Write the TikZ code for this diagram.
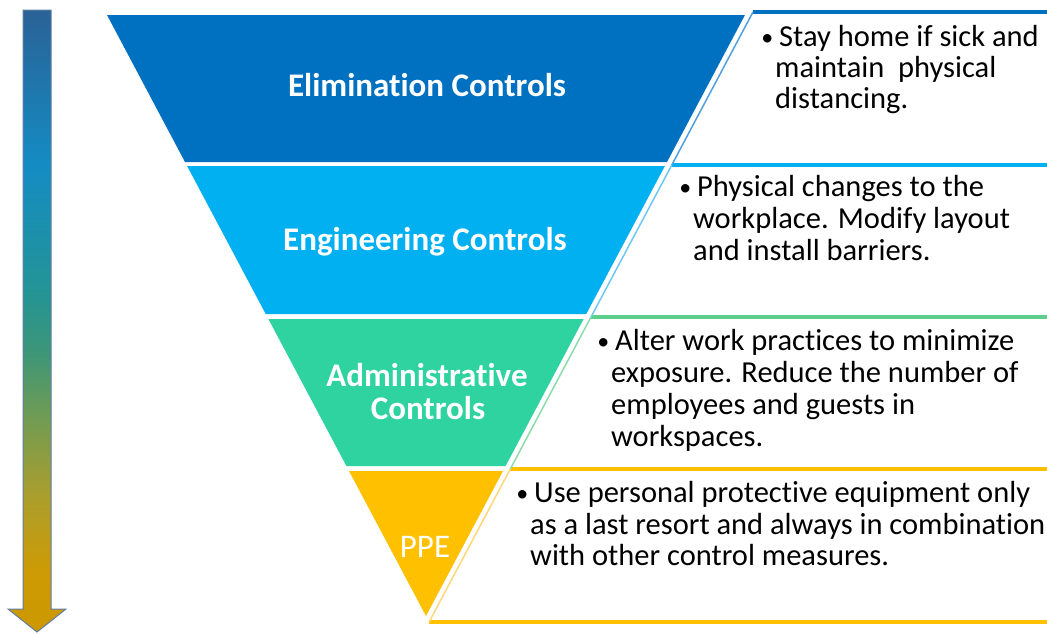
\documentclass[tikz,border=0pt]{standalone}
\usepackage{fontspec}
\setmainfont[Ligatures=NoCommon]{Carlito}
\definecolor{elim}{RGB}{0,112,192}
\definecolor{engr}{RGB}{0,176,240}
\definecolor{admin}{RGB}{46,211,160}
\definecolor{adminline}{RGB}{92,208,138}
\definecolor{ppe}{RGB}{255,192,0}
\definecolor{slant1}{RGB}{80,160,225}
\definecolor{slant2}{RGB}{110,200,245}
\definecolor{slant3}{RGB}{140,220,170}
\definecolor{slant4}{RGB}{255,215,120}
\definecolor{arrowedge}{RGB}{95,125,165}
\definecolor{ar0}{RGB}{42,98,150}
\definecolor{ar1}{RGB}{20,140,195}
\definecolor{ar2}{RGB}{35,148,150}
\definecolor{ar3}{RGB}{60,150,120}
\definecolor{ar4}{RGB}{110,155,85}
\definecolor{ar5}{RGB}{170,158,45}
\definecolor{ar6}{RGB}{205,155,5}
\definecolor{ar7}{RGB}{205,152,0}
\pgfdeclareverticalshading{arrowshade}{100bp}{color(0bp)=(ar7); color(25bp)=(ar7); color(30bp)=(ar6); color(36bp)=(ar5); color(42.5bp)=(ar4); color(47.5bp)=(ar3); color(52.5bp)=(ar2); color(62.5bp)=(ar1); color(75bp)=(ar0); color(100bp)=(ar0)}
\tikzset{
  titletext/.style={text=white, font=\fontsize{33}{36}\selectfont\bfseries, inner sep=0pt, anchor=base},
  ppetext/.style={text=white, font=\fontsize{33}{36}\selectfont, inner sep=0pt, anchor=base},
  bodyline/.style={text=black, font=\fontsize{30.5}{32}\selectfont, inner sep=0pt, anchor=base west},
  thickline/.style={line width=4.5pt},
  thinline/.style={line width=1.5pt}
}
\newcommand{\bul}{\llap{\raisebox{1pt}{\fontsize{24}{24}\selectfont •}\hspace{2pt}}\hspace{4pt}}
\begin{document}
\begin{tikzpicture}[x=1pt,y=-1pt]
\useasboundingbox (0,0) rectangle (1047,633);
% gradient arrow
\path[shading=arrowshade, draw=arrowedge, line width=1pt]
  (23,10) -- (51,10) -- (51,609) -- (66,609) -- (37,632) -- (8,609) -- (23,609) -- cycle;
% funnel bands
\fill[elim]  (107,15) -- (745,15) -- (667.0,162) -- (185.0,162) -- cycle;
\fill[engr]  (187.1,166) -- (664.9,166) -- (586.3,314) -- (265.7,314) -- cycle;
\fill[admin] (268.4,319) -- (583.6,319) -- (505.6,466) -- (346.4,466) -- cycle;
\fill[ppe]   (349.0,471) -- (503.0,471) -- (426,616) -- cycle;
% text boxes: thick top rules
\draw[elim, thickline]      (753,12) -- (1047,12);
\draw[engr, thickline]      (671.8,165) -- (1047,165);
\draw[adminline, thickline] (591,317) -- (1047,317);
\draw[ppe, thickline]       (510.3,469) -- (1047,469);
\draw[ppe, thickline]       (429.1,622) -- (1047,622);
% slanted thin edges
\draw[slant1, thinline] (753,12) -- (671.8,165);
\draw[slant2, thinline] (671.8,165) -- (591,317);
\draw[slant3, thinline] (591,317) -- (510.3,469);
\draw[slant4, thinline] (510.3,469) -- (429.1,622);
% titles
\node[titletext] (t1) at (427,96) {Elimination Controls};
\node[titletext] (t2) at (425,250) {Engineering Controls};
\node[titletext] (t3a) at (427,386) {Administrative};
\node[titletext] (t3b) at (428,419) {Controls};
\node[ppetext] (t4) at (425,557) {PPE};
% box texts
\node[bodyline] (b1a) at (775,46) {\bul Stay home if sick and};
\node[bodyline] (b1b) at (775,77) {maintain\ \ physical};
\node[bodyline] (b1c) at (775,108) {distancing.};
\node[bodyline] (b2a) at (693,196) {\bul Physical changes to the};
\node[bodyline] (b2b) at (693,228) {workplace. Modify layout};
\node[bodyline] (b2c) at (693,260) {and install barriers.};
\node[bodyline] (b3a) at (611,350) {\bul Alter work practices to minimize};
\node[bodyline] (b3b) at (611,382) {exposure. Reduce the number of};
\node[bodyline] (b3c) at (611,414) {employees and guests in};
\node[bodyline] (b3d) at (611,446) {workspaces.};
\node[bodyline] (b4a) at (530,502) {\bul Use personal protective equipment only};
\node[bodyline] (b4b) at (530,534) {as a last resort and always in combination};
\node[bodyline] (b4c) at (530,565) {with other control measures.};
\end{tikzpicture}
\end{document}
